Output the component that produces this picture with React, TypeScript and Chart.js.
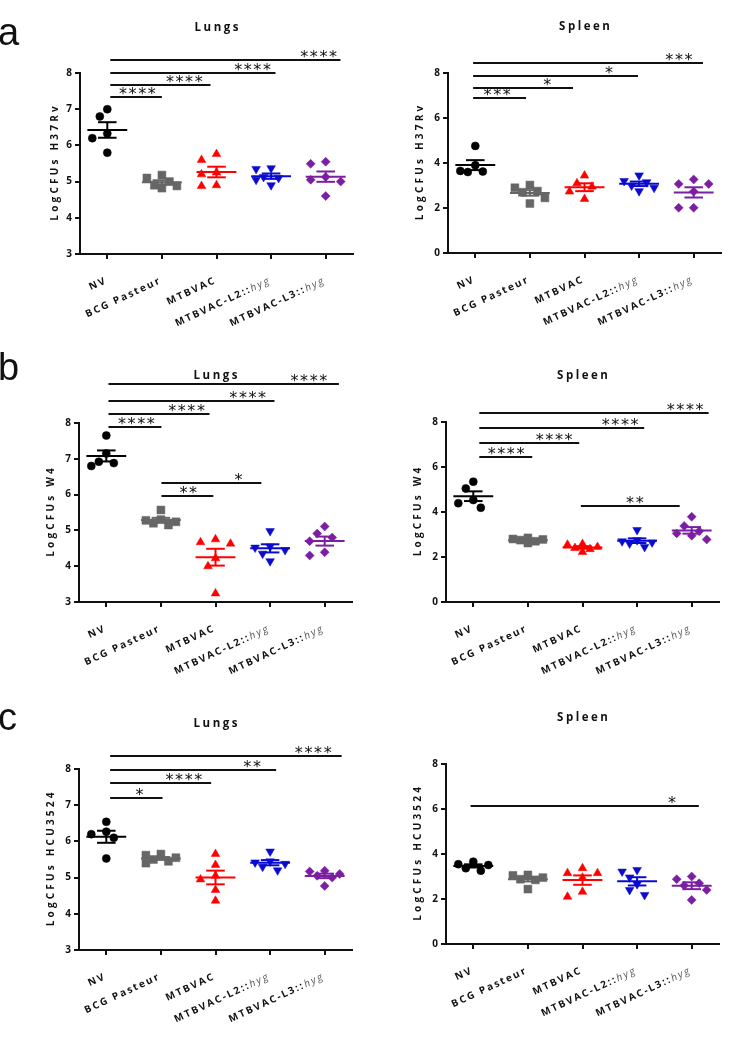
import React, { useEffect, useRef } from 'react';
import { Chart, registerables } from 'chart.js';

Chart.register(...registerables);

// ---------- categories & ticks ----------
const groups = ['NV', 'BCG Pasteur', 'MTBVAC', 'MTBVAC-L2::hyg', 'MTBVAC-L3::hyg'];
const yTicksLungs = [3, 4, 5, 6, 7, 8];
const yTicksSpleen = [0, 2, 4, 6, 8];

// ---------- values (log CFUs), one list per group ----------
const lungsH37Rv = [
  [7.0, 6.8, 6.33, 6.2, 5.8],
  [5.18, 5.1, 5.0, 4.9, 4.88, 4.82],
  [5.76, 5.6, 5.25, 5.2, 4.9, 4.88],
  [5.37, 5.35, 5.13, 5.1, 5.05, 4.9],
  [5.55, 5.49, 5.13, 5.05, 5.0, 4.6],
];
const spleenH37Rv = [
  [4.76, 3.9, 3.65, 3.62, 3.6],
  [3.02, 2.9, 2.75, 2.7, 2.45, 2.2],
  [3.44, 3.1, 2.95, 2.73, 2.4],
  [3.45, 3.2, 3.15, 3.0, 2.9, 2.75],
  [3.27, 3.07, 3.07, 2.73, 2.01, 2.01],
];
const lungsW4 = [
  [7.65, 7.15, 6.92, 6.88, 6.8],
  [5.57, 5.3, 5.28, 5.24, 5.2, 5.15],
  [4.75, 4.67, 4.63, 4.22, 4.0, 3.24],
  [4.98, 4.55, 4.52, 4.45, 4.35, 4.14],
  [5.11, 4.91, 4.8, 4.7, 4.39, 4.3],
];
const spleenW4 = [
  [5.35, 5.05, 4.53, 4.39, 4.19],
  [2.85, 2.8, 2.78, 2.75, 2.7, 2.62],
  [2.58, 2.55, 2.45, 2.4, 2.35, 2.22],
  [3.2, 2.75, 2.7, 2.65, 2.6, 2.45],
  [3.79, 3.38, 3.15, 3.05, 2.95, 2.78],
];
const lungsHCU3524 = [
  [6.54, 6.27, 6.2, 6.1, 5.53],
  [5.65, 5.62, 5.55, 5.5, 5.45, 5.4],
  [5.65, 5.35, 5.05, 4.95, 4.66, 4.36],
  [5.72, 5.45, 5.42, 5.38, 5.3, 5.2],
  [5.19, 5.17, 5.1, 5.05, 5.0, 4.77],
];
const spleenHCU3524 = [
  [3.66, 3.55, 3.51, 3.37, 3.26],
  [3.07, 3.05, 2.95, 2.88, 2.85, 2.44],
  [3.37, 3.15, 3.15, 2.95, 2.32, 2.1],
  [3.29, 3.22, 2.96, 2.66, 2.4, 2.18],
  [3.0, 2.88, 2.7, 2.6, 2.4, 1.96],
];

// ---------- significance comparisons: [fromGroup, toGroup, level, stars, starsAt] ----------
type Sig = [number, number, number, string, number];
const sigLungsH37Rv: Sig[] = [
  [0.055, 1.0, 7.34, '****', 0.55],
  [0.055, 1.89, 7.67, '****', 1.41],
  [0.055, 3.08, 8.0, '****', 2.66],
  [0.055, 4.27, 8.36, '****', 3.87],
];
const sigSpleenH37Rv: Sig[] = [
  [-0.04, 0.93, 6.89, '***', 0.4],
  [-0.04, 1.79, 7.33, '*', 1.32],
  [-0.04, 2.98, 7.87, '*', 2.45],
  [-0.04, 4.17, 8.44, '***', 3.73],
];
const sigLungsW4: Sig[] = [
  [0.04, 1.01, 7.89, '****', 0.55],
  [0.04, 1.89, 8.25, '****', 1.47],
  [0.04, 3.08, 8.61, '****', 2.59],
  [0.04, 4.26, 9.09, '****', 3.71],
  [1.01, 1.96, 5.96, '**', 1.5],
  [1.01, 2.84, 6.32, '*', 2.42],
];
const sigSpleenW4: Sig[] = [
  [0.11, 1.08, 6.44, '****', 0.6],
  [0.11, 1.94, 7.07, '****', 1.48],
  [0.11, 3.13, 7.73, '****', 2.69],
  [0.11, 4.31, 8.4, '****', 3.88],
  [1.97, 3.78, 4.27, '**', 2.96],
];
const sigLungsHCU3524: Sig[] = [
  [0.07, 1.03, 7.2, '*', 0.61],
  [0.07, 1.92, 7.61, '****', 1.42],
  [0.07, 3.11, 7.97, '**', 2.67],
  [0.07, 4.31, 8.36, '****', 3.79],
];
const sigSpleenHCU3524: Sig[] = [[-0.05, 4.13, 6.13, '*', 3.64]];

// ---------- styles ----------
const COLORS = ['#000000', '#666666', '#ff0000', '#0b0bd0', '#7b1fa2'];
const SHAPES = ['circle', 'rect', 'triangle', 'triangle', 'rectRot'];
const ROTATIONS = [0, 0, 0, 180, 0];
const RADII = [4, 5.6, 5, 5, 4.5];
const SANS = '"Open Sans", "DejaVu Sans", sans-serif';
const MEAN_HALF = 0.365;
const CAP_HALF = 0.17;

interface Box { left: number; top: number; width: number; height: number }
interface Area { left: number; right: number; top: number; bottom: number }
interface PanelSpec {
  canvas: Box;
  area: Area;
  title: string;
  titleY: number;
  yTitle: string;
  yTitleX: number;
  yTicks: number[];
  values: number[][];
  sig: Sig[];
}

const panels: PanelSpec[] = [
  { canvas: { left: 0, top: 0, width: 365, height: 345 }, area: { left: 80, right: 353, top: 73, bottom: 254 },
    title: 'Lungs', titleY: 28, yTitle: 'LogCFUs H37Rv', yTitleX: 55, yTicks: yTicksLungs, values: lungsH37Rv, sig: sigLungsH37Rv },
  { canvas: { left: 365, top: 0, width: 366, height: 345 }, area: { left: 448, right: 721, top: 73, bottom: 253 },
    title: 'Spleen', titleY: 27, yTitle: 'LogCFUs H37Rv', yTitleX: 420, yTicks: yTicksSpleen, values: spleenH37Rv, sig: sigSpleenH37Rv },
  { canvas: { left: 0, top: 335, width: 365, height: 360 }, area: { left: 79, right: 352, top: 423, bottom: 602 },
    title: 'Lungs', titleY: 376, yTitle: 'LogCFUs W4', yTitleX: 51, yTicks: yTicksLungs, values: lungsW4, sig: sigLungsW4 },
  { canvas: { left: 365, top: 335, width: 366, height: 360 }, area: { left: 446, right: 719, top: 422, bottom: 602 },
    title: 'Spleen', titleY: 376, yTitle: 'LogCFUs W4', yTitleX: 418, yTicks: yTicksSpleen, values: spleenW4, sig: sigSpleenW4 },
  { canvas: { left: 0, top: 690, width: 365, height: 361 }, area: { left: 79, right: 352, top: 769, bottom: 950 },
    title: 'Lungs', titleY: 724, yTitle: 'LogCFUs HCU3524', yTitleX: 51, yTicks: yTicksLungs, values: lungsHCU3524, sig: sigLungsHCU3524 },
  { canvas: { left: 365, top: 690, width: 366, height: 361 }, area: { left: 446, right: 719, top: 764, bottom: 944 },
    title: 'Spleen', titleY: 718, yTitle: 'LogCFUs HCU3524', yTitleX: 418, yTicks: yTicksSpleen, values: spleenHCU3524, sig: sigSpleenHCU3524 },
];

// horizontal spread of overlapping dots (scatter dot plot layout)
function spread(values: number[], pxPerUnit: number, catPx: number): number[] {
  const order = values.map((_, i) => i).sort((a, b) => values[b] - values[a]);
  const placed: { x: number; y: number }[] = [];
  const out: number[] = new Array(values.length).fill(0);
  const step = 7.5;
  const minDist = 9.5;
  const slots = [0, -step, step, -2 * step, 2 * step];
  for (const i of order) {
    const y = values[i] * pxPerUnit;
    let best = 0;
    let bestD = -1;
    for (const cand of slots) {
      const d = placed.length ? Math.min(...placed.map((p) => Math.hypot(p.x - cand, p.y - y))) : Infinity;
      if (d >= minDist) { best = cand; bestD = Infinity; break; }
      if (d > bestD) { bestD = d; best = cand; }
    }
    placed.push({ x: best, y });
    out[i] = best / catPx;
  }
  return out;
}

function setSpacing(ctx: CanvasRenderingContext2D, v: string) {
  (ctx as any).letterSpacing = v;
}

function makePlugin(spec: PanelSpec) {
  return {
    id: 'extras',
    afterDatasetsDraw(chart: any) {
      const { ctx } = chart;
      const xs = chart.scales.x;
      const ys = chart.scales.y;
      spec.values.forEach((vals, gi) => {
        const n = vals.length;
        const mean = vals.reduce((a, b) => a + b, 0) / n;
        const sd = Math.sqrt(vals.reduce((a, b) => a + (b - mean) ** 2, 0) / (n - 1));
        const sem = sd / Math.sqrt(n);
        ctx.save();
        ctx.strokeStyle = COLORS[gi];
        ctx.lineWidth = 2;
        const seg = (x1: number, y1: number, x2: number, y2: number) => {
          ctx.beginPath();
          ctx.moveTo(xs.getPixelForValue(x1), ys.getPixelForValue(y1));
          ctx.lineTo(xs.getPixelForValue(x2), ys.getPixelForValue(y2));
          ctx.stroke();
        };
        seg(gi - MEAN_HALF, mean, gi + MEAN_HALF, mean);
        seg(gi, mean - sem, gi, mean + sem);
        seg(gi - CAP_HALF, mean + sem, gi + CAP_HALF, mean + sem);
        seg(gi - CAP_HALF, mean - sem, gi + CAP_HALF, mean - sem);
        ctx.restore();
      });
    },
    afterDraw(chart: any) {
      const { ctx, chartArea: area } = chart;
      const xs = chart.scales.x;
      const ys = chart.scales.y;
      const off = spec.canvas;

      // significance bars
      spec.sig.forEach(([from, to, level, stars, at]) => {
        const yPx = Math.round(ys.getPixelForValue(level));
        ctx.save();
        ctx.strokeStyle = '#111';
        ctx.lineWidth = 2;
        ctx.beginPath();
        ctx.moveTo(xs.getPixelForValue(from), yPx);
        ctx.lineTo(xs.getPixelForValue(to), yPx);
        ctx.stroke();
        ctx.font = '16px "DejaVu Sans", sans-serif';
        setSpacing(ctx, '1.6px');
        ctx.fillStyle = '#111';
        ctx.textAlign = 'left';
        ctx.textBaseline = 'alphabetic';
        const w = ctx.measureText(stars).width - 1.6;
        const m = ctx.measureText('*');
        const baseY = yPx - 2.5 - m.actualBoundingBoxDescent;
        ctx.fillText(stars, xs.getPixelForValue(at) - w / 2, baseY);
        ctx.restore();
      });

      // title
      ctx.save();
      ctx.font = `bold 11.5px ${SANS}`;
      setSpacing(ctx, '2.5px');
      ctx.fillStyle = '#111';
      ctx.textAlign = 'center';
      ctx.textBaseline = 'middle';
      ctx.fillText(spec.title, (area.left + area.right) / 2 + 1.25, spec.titleY - off.top);
      ctx.restore();

      // y-axis title
      ctx.save();
      ctx.translate(spec.yTitleX - off.left, (area.top + area.bottom) / 2);
      ctx.rotate(-Math.PI / 2);
      ctx.font = `bold 10px ${SANS}`;
      setSpacing(ctx, '3.2px');
      ctx.fillStyle = '#111';
      ctx.textAlign = 'center';
      ctx.textBaseline = 'middle';
      ctx.fillText(spec.yTitle, 1.6, 0);
      ctx.restore();

      // x category labels (suffix after "::" in italic)
      groups.forEach((g, i) => {
        const px = xs.getPixelForValue(i);
        const parts = g.split('::');
        const main = parts.length > 1 ? parts[0] + '::' : parts[0];
        const ital = parts.length > 1 ? parts[1] : '';
        const boldFont = `bold 10px ${SANS}`;
        const italFont = `italic 10px ${SANS}`;
        ctx.save();
        ctx.translate(px - 1, area.bottom + 26);
        ctx.rotate((-25 * Math.PI) / 180);
        setSpacing(ctx, '1.9px');
        ctx.font = boldFont;
        const w1 = ctx.measureText(main).width;
        ctx.font = italFont;
        const w2 = ital ? ctx.measureText(ital).width : 0;
        ctx.textAlign = 'left';
        ctx.textBaseline = 'middle';
        ctx.font = boldFont;
        ctx.fillStyle = '#111';
        ctx.fillText(main, -(w1 + w2), 0);
        if (ital) {
          ctx.font = italFont;
          ctx.fillStyle = '#555';
          ctx.fillText(ital, -w2, 0);
        }
        ctx.restore();
      });
    },
  };
}

function Panel({ spec }: { spec: PanelSpec }) {
  const ref = useRef<HTMLCanvasElement>(null);
  useEffect(() => {
    const { canvas: c, area } = spec;
    const yMin = spec.yTicks[0];
    const yMax = spec.yTicks[spec.yTicks.length - 1];
    const pxPerUnit = (area.bottom - area.top) / (yMax - yMin);
    const catPx = (area.right - area.left) / groups.length;
    const yW = area.left - c.left;
    const xH = c.top + c.height - area.bottom;
    const padR = c.left + c.width - area.right;
    const padT = area.top - c.top;

    const datasets = groups.map((g, gi) => {
      const offs = spread(spec.values[gi], pxPerUnit, catPx);
      return {
        label: g,
        data: spec.values[gi].map((v, k) => ({ x: gi + offs[k], y: v })),
        pointStyle: SHAPES[gi],
        rotation: ROTATIONS[gi],
        pointRadius: RADII[gi],
        backgroundColor: COLORS[gi],
        borderColor: COLORS[gi],
        borderWidth: 0.5,
      };
    });

    const axisGrid = { drawOnChartArea: false, drawTicks: true, tickLength: 5, color: '#111', lineWidth: 2 };
    const chart = new Chart(ref.current as HTMLCanvasElement, {
      type: 'scatter',
      data: { datasets: datasets as any },
      plugins: [makePlugin(spec) as any],
      options: {
        responsive: false,
        animation: false,
        layout: { padding: { left: 0, right: padR, top: padT, bottom: 0 } },
        plugins: { legend: { display: false }, tooltip: { enabled: false }, title: { display: false } },
        scales: {
          x: {
            type: 'linear',
            min: -0.5,
            max: groups.length - 0.5,
            afterBuildTicks: (s: any) => { s.ticks = groups.map((_, i) => ({ value: i })); },
            afterFit: (s: any) => { s.height = xH; },
            ticks: { display: false },
            grid: axisGrid,
            border: { display: true, color: '#111', width: 2 },
          },
          y: {
            type: 'linear',
            min: yMin,
            max: yMax,
            afterBuildTicks: (s: any) => { s.ticks = spec.yTicks.map((v) => ({ value: v })); },
            afterFit: (s: any) => { s.width = yW; },
            ticks: { color: '#111', padding: 3, font: { family: SANS, weight: 'bold', size: 10 } },
            grid: axisGrid,
            border: { display: true, color: '#111', width: 2 },
          },
        } as any,
      },
    });
    return () => chart.destroy();
  }, [spec]);
  return (
    <canvas
      ref={ref}
      width={spec.canvas.width}
      height={spec.canvas.height}
      style={{ position: 'absolute', left: spec.canvas.left, top: spec.canvas.top, width: spec.canvas.width, height: spec.canvas.height }}
    />
  );
}

const letterStyle = (top: number): React.CSSProperties => ({
  position: 'absolute',
  left: -2,
  top,
  fontFamily: '"Liberation Sans", Arial, sans-serif',
  fontSize: 38,
  lineHeight: '38px',
  color: '#111',
});

export default function App() {
  return (
    <div style={{ position: 'absolute', left: 0, top: 0, width: 731, height: 1051, background: '#fff', overflow: 'hidden' }}>
      {panels.map((p, i) => <Panel key={i} spec={p} />)}
      <div style={letterStyle(12.8)}>a</div>
      <div style={letterStyle(347.8)}>b</div>
      <div style={letterStyle(697.8)}>c</div>
    </div>
  );
}
